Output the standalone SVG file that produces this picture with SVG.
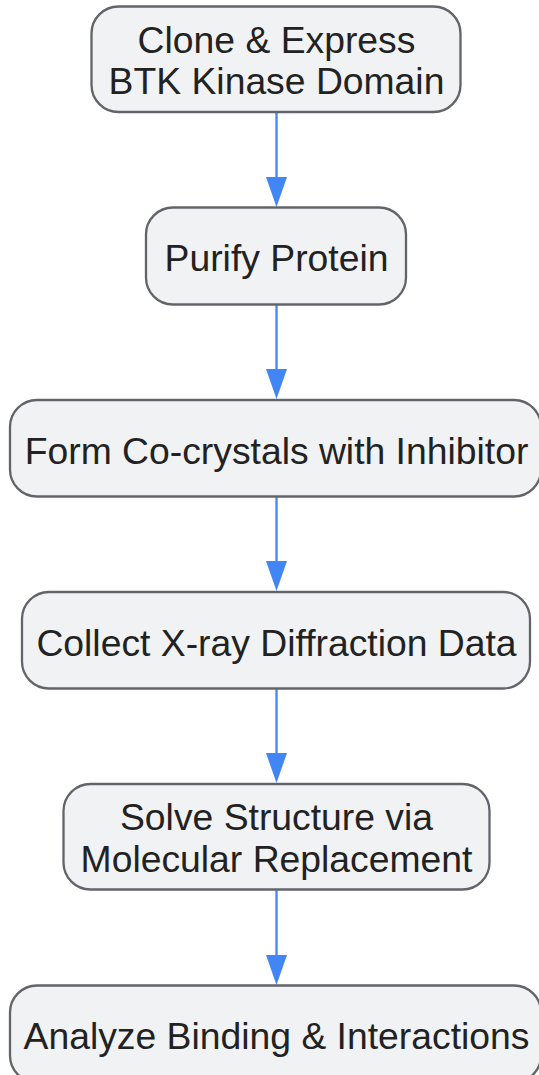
<svg xmlns="http://www.w3.org/2000/svg" width="539" height="1075" viewBox="0 0 539 1075">
<style>
.node rect{fill:#f1f2f4;stroke:#626469;stroke-width:2.3}
.node text{font-family:"Liberation Sans",Arial,sans-serif;font-size:37.3px;fill:#222;text-anchor:middle}
.edge{stroke:#4285f4;stroke-width:2.3;fill:none}
.head{fill:#4285f4}
</style>
<rect width="539" height="1075" fill="#ffffff"/>
<g id="connectors">
<path class="edge" d="M276.5,112 V178"/><path class="head" d="M266,177 L287,177 L276.5,207 Z"/>
<path class="edge" d="M276.5,304.5 V370"/><path class="head" d="M266,369 L287,369 L276.5,399 Z"/>
<path class="edge" d="M276.5,496.5 V562"/><path class="head" d="M266,561 L287,561 L276.5,591 Z"/>
<path class="edge" d="M276.5,688.5 V754"/><path class="head" d="M266,753 L287,753 L276.5,783 Z"/>
<path class="edge" d="M276.5,889.5 V956"/><path class="head" d="M266,955 L287,955 L276.5,985 Z"/>
</g>
<g id="node1" class="node"><rect x="91.5" y="6.5" width="369" height="105.5" rx="27"/><text x="276.5" y="53.3">Clone &amp; Express</text><text x="276.5" y="94.3">BTK Kinase Domain</text></g>
<g id="node2" class="node"><rect x="146" y="207.5" width="260" height="97" rx="27"/><text x="276.5" y="271">Purify Protein</text></g>
<g id="node3" class="node"><rect x="10" y="400" width="531" height="96.5" rx="27"/><text x="276.5" y="463.5">Form Co-crystals with Inhibitor</text></g>
<g id="node4" class="node"><rect x="22" y="592" width="508" height="96.5" rx="27"/><text x="276.5" y="655.5">Collect X-ray Diffraction Data</text></g>
<g id="node5" class="node"><rect x="63.5" y="784" width="426" height="105.5" rx="27"/><text x="276.5" y="830">Solve Structure via</text><text x="276.5" y="871.5">Molecular Replacement</text></g>
<g id="node6" class="node"><rect x="10" y="985.5" width="531" height="97" rx="27"/><text x="276.5" y="1049">Analyze Binding &amp; Interactions</text></g>
</svg>
